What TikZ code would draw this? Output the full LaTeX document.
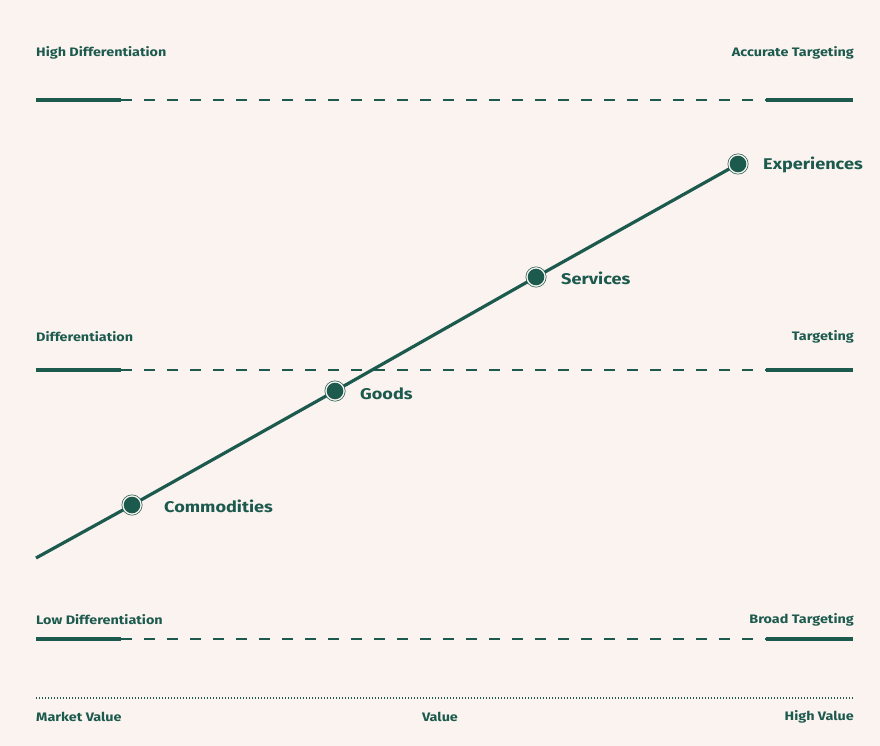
\documentclass[tikz,border=0pt]{standalone}
\usepackage{fontspec}
\setmainfont{Fira Sans}[FakeStretch=1.17]
\usepackage{xcolor}
\definecolor{bgpink}{HTML}{FBF3F0}
\definecolor{teal}{HTML}{1D5A4E}
\tikzset{
  axislabel/.style={text=teal,font=\bfseries\fontsize{12.3}{14}\selectfont,inner sep=0pt},
  stagelabel/.style={text=teal,font=\bfseries\fontsize{15.5}{18}\selectfont,inner sep=0pt,anchor=west},
  solidbar/.style={draw=teal,line width=3.2pt},
  dashbar/.style={draw=teal,line width=1.8pt,dash pattern=on 11pt off 12pt},
}
\begin{document}
\begin{tikzpicture}[x=1pt,y=-1pt]
\fill[bgpink] (0,0) rectangle (880,746);
\useasboundingbox (0,0) rectangle (880,746);

% level labels
\node[axislabel,anchor=west] (hd) at (36,53) {High Differentiation};
\node[axislabel,anchor=east] (at) at (854,53) {Accurate Targeting};
\node[axislabel,anchor=west] (md) at (36,337) {Differentiation};
\node[axislabel,anchor=east] (mt) at (854,337) {Targeting};
\node[axislabel,anchor=west] (ld) at (36,620) {Low Differentiation};
\node[axislabel,anchor=east] (bt) at (854,620) {Broad Targeting};

% level lines
\foreach \lvl/\yy in {top/100,mid/370,low/639}{
  \coordinate (\lvl a) at (36,\yy);
  \coordinate (\lvl b) at (121,\yy);
  \coordinate (\lvl c) at (766,\yy);
  \coordinate (\lvl d) at (853,\yy);
  \draw[solidbar] (\lvl a) -- (\lvl b);
  \draw[dashbar] (\lvl b) -- (\lvl c);
  \draw[solidbar] (\lvl c) -- (\lvl d);
}

% value axis
\coordinate (va) at (36,698);
\coordinate (vb) at (853,698);
\draw[teal,line width=1.3pt,dash pattern=on 1.3pt off 1.7pt] (va) -- (vb);
\node[axislabel,anchor=west] (mv) at (36,717) {Market Value};
\node[axislabel] (vv) at (440,717) {Value};
\node[axislabel,anchor=east] (hv) at (854,717) {High Value};

% progression
\coordinate (start) at (36,558);
\node[circle,inner sep=0pt,minimum size=20pt] (com) at (132,505) {};
\node[circle,inner sep=0pt,minimum size=20pt] (goo) at (335,391) {};
\node[circle,inner sep=0pt,minimum size=20pt] (ser) at (536,277) {};
\node[circle,inner sep=0pt,minimum size=20pt] (exp) at (738,164) {};
\draw[teal,line width=3.2pt] (start) -- (com.center) -- (goo.center) -- (ser.center) -- (exp.center);
\foreach \st in {com,goo,ser,exp}{
  \fill[teal] (\st.center) circle (10.5pt);
  \fill[bgpink] (\st.center) circle (9.8pt);
  \fill[teal] (\st.center) circle (8.3pt);
}
\node[stagelabel] (coml) at (164,506) {Commodities};
\node[stagelabel] (gool) at (360,394) {Goods};
\node[stagelabel] (serl) at (561,278) {Services};
\node[stagelabel] (expl) at (763,165) {Experiences};
\end{tikzpicture}
\end{document}
